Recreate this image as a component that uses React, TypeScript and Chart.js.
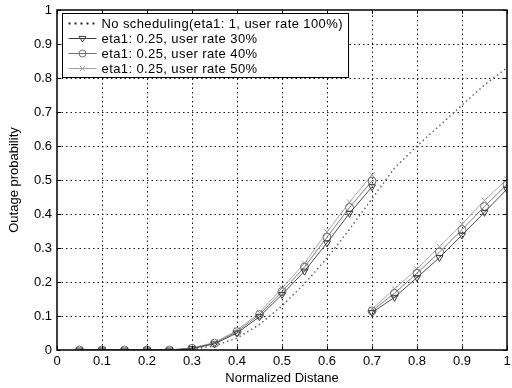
import React, { useEffect, useRef } from "react";
import { Chart, registerables } from "chart.js";

Chart.register(...registerables);

// ---------- data ----------
const distanceAll = [0.05, 0.1, 0.15, 0.2, 0.25, 0.3, 0.35, 0.4, 0.45, 0.5, 0.55, 0.6, 0.65, 0.7, 0.75, 0.8, 0.85, 0.9, 0.95, 1.0];
const noScheduling = [0, 0, 0, 0, 0, 0.002, 0.012, 0.035, 0.075, 0.13, 0.195, 0.27, 0.355, 0.445, 0.535, 0.6, 0.66, 0.72, 0.78, 0.83];

const distanceSeg1 = [0.05, 0.1, 0.15, 0.2, 0.25, 0.3, 0.35, 0.4, 0.45, 0.5, 0.55, 0.6, 0.65, 0.7];
const distanceSeg2 = [0.7, 0.75, 0.8, 0.85, 0.9, 0.95, 1.0];

const rate30Seg1 = [0, 0, 0, 0, 0, 0.004, 0.018, 0.05, 0.098, 0.163, 0.232, 0.315, 0.402, 0.48];
const rate40Seg1 = [0, 0, 0, 0, 0, 0.005, 0.02, 0.054, 0.104, 0.172, 0.244, 0.332, 0.419, 0.497];
const rate50Seg1 = [0, 0, 0, 0, 0, 0.006, 0.022, 0.058, 0.11, 0.182, 0.255, 0.347, 0.435, 0.515];

const rate30Seg2 = [0.11, 0.155, 0.213, 0.272, 0.338, 0.405, 0.473];
const rate40Seg2 = [0.115, 0.167, 0.226, 0.288, 0.354, 0.422, 0.487];
const rate50Seg2 = [0.12, 0.18, 0.238, 0.304, 0.37, 0.44, 0.502];

const xTickValues = [0, 0.1, 0.2, 0.3, 0.4, 0.5, 0.6, 0.7, 0.8, 0.9, 1];
const yTickValues = [0, 0.1, 0.2, 0.3, 0.4, 0.5, 0.6, 0.7, 0.8, 0.9, 1];

const seriesLabels = [
  "No scheduling(eta1: 1, user rate 100%)",
  "eta1: 0.25, user rate 30%",
  "eta1: 0.25, user rate 40%",
  "eta1: 0.25, user rate 50%",
];
const xTitle = "Normalized Distane";
const yTitle = "Outage probability";

// ---------- styles ----------
const FONT = "'Liberation Sans', Arial, Helvetica, sans-serif";
const colNoSched = "#666666";
const col30 = "#3a3a3a";
const col40 = "#707070";
const col50 = "#a0a0a0";

function pairs(xs: number[], ys: number[]) {
  return xs.map((x, i) => ({ x, y: ys[i] }));
}
function twoSegments(xs1: number[], ys1: number[], xs2: number[], ys2: number[]) {
  return [...pairs(xs1, ys1), { x: xs2[0], y: null as any }, ...pairs(xs2, ys2)];
}

function drawMarker(ctx: CanvasRenderingContext2D, kind: string, cx: number, cy: number, r: number, color: string) {
  ctx.save();
  ctx.strokeStyle = color;
  ctx.lineWidth = 1;
  ctx.setLineDash([]);
  ctx.beginPath();
  if (kind === "triDown") {
    ctx.moveTo(cx - r, cy - r * 0.6);
    ctx.lineTo(cx + r, cy - r * 0.6);
    ctx.lineTo(cx, cy + r);
    ctx.closePath();
  } else if (kind === "circle") {
    ctx.arc(cx, cy, r, 0, Math.PI * 2);
  } else if (kind === "x") {
    ctx.moveTo(cx - r * 0.75, cy - r * 0.75);
    ctx.lineTo(cx + r * 0.75, cy + r * 0.75);
    ctx.moveTo(cx + r * 0.75, cy - r * 0.75);
    ctx.lineTo(cx - r * 0.75, cy + r * 0.75);
  }
  ctx.stroke();
  ctx.restore();
}

const matlabPlugin = {
  id: "matlabFrame",
  beforeDatasetsDraw(chart: any) {
    const { ctx, chartArea: a, scales } = chart;
    const xs = scales.x;
    const ys = scales.y;
    ctx.save();
    ctx.strokeStyle = "#1a1a1a";
    ctx.lineWidth = 1;
    ctx.setLineDash([1.5, 3]);
    for (const v of xTickValues) {
      if (v <= 0 || v >= 1) continue;
      const px = Math.round(xs.getPixelForValue(v)) + 0.5;
      ctx.beginPath();
      ctx.moveTo(px, a.bottom);
      ctx.lineTo(px, a.top);
      ctx.stroke();
    }
    for (const v of yTickValues) {
      if (v <= 0 || v >= 1) continue;
      const py = Math.round(ys.getPixelForValue(v)) + 0.5;
      ctx.beginPath();
      ctx.moveTo(a.left, py);
      ctx.lineTo(a.right, py);
      ctx.stroke();
    }
    ctx.restore();
  },
  afterDatasetsDraw(chart: any) {
    const { ctx, chartArea: a, scales } = chart;
    const xs = scales.x;
    const ys = scales.y;
    ctx.save();
    ctx.setLineDash([]);
    ctx.strokeStyle = "#000";
    ctx.lineWidth = 1.5;
    ctx.strokeRect(a.left, a.top, a.right - a.left, a.bottom - a.top);
    ctx.lineWidth = 1;
    const tl = 4;
    for (const v of xTickValues) {
      const px = Math.round(xs.getPixelForValue(v)) + 0.5;
      ctx.beginPath();
      ctx.moveTo(px, a.bottom);
      ctx.lineTo(px, a.bottom - tl);
      ctx.moveTo(px, a.top);
      ctx.lineTo(px, a.top + tl);
      ctx.stroke();
    }
    for (const v of yTickValues) {
      const py = Math.round(ys.getPixelForValue(v)) + 0.5;
      ctx.beginPath();
      ctx.moveTo(a.left, py);
      ctx.lineTo(a.left + tl, py);
      ctx.moveTo(a.right, py);
      ctx.lineTo(a.right - tl, py);
      ctx.stroke();
    }
    ctx.restore();
  },
  afterDraw(chart: any) {
    const { ctx, chartArea: a } = chart;
    const bx = a.left + 5.5;
    const by = a.top + 3.5;
    const bw = 286;
    const bh = 64;
    ctx.save();
    ctx.fillStyle = "#fff";
    ctx.fillRect(bx, by, bw, bh);
    ctx.strokeStyle = "#000";
    ctx.lineWidth = 1;
    ctx.setLineDash([]);
    ctx.strokeRect(bx, by, bw, bh);

    const rows = [by + 10, by + 25, by + 40, by + 55];
    const sx1 = bx + 6;
    const sx2 = bx + 34;
    const kinds = ["dots", "triDown", "circle", "x"];
    const colors = ["#222", col30, col40, col50];
    rows.forEach((ry, i) => {
      if (kinds[i] === "dots") {
        ctx.save();
        ctx.strokeStyle = colors[i];
        ctx.lineWidth = 2;
        ctx.setLineDash([2, 4]);
        ctx.beginPath();
        ctx.moveTo(sx1, ry);
        ctx.lineTo(sx2, ry);
        ctx.stroke();
        ctx.restore();
      } else {
        ctx.save();
        ctx.strokeStyle = colors[i];
        ctx.lineWidth = 1;
        ctx.beginPath();
        ctx.moveTo(sx1, ry);
        ctx.lineTo(sx2, ry);
        ctx.stroke();
        ctx.restore();
        drawMarker(ctx, kinds[i], (sx1 + sx2) / 2, ry, 3.5, colors[i]);
      }
    });

    ctx.save();
    ctx.beginPath();
    ctx.rect(bx + 1, by + 1, bw - 2, bh - 2);
    ctx.clip();
    ctx.fillStyle = "#000";
    ctx.font = `13px ${FONT}`;
    (ctx as any).letterSpacing = "0.4px";
    ctx.textAlign = "left";
    ctx.textBaseline = "middle";
    rows.forEach((ry, i) => {
      ctx.fillText(seriesLabels[i], bx + 39, ry + 0.5);
    });
    ctx.restore();
    ctx.restore();
  },
};

export default function App() {
  const canvasRef = useRef<HTMLCanvasElement | null>(null);

  useEffect(() => {
    const canvas = canvasRef.current;
    if (!canvas) return;

    const chart = new Chart(canvas, {
      type: "line",
      data: {
        datasets: [
          {
            label: seriesLabels[0],
            data: pairs(distanceAll, noScheduling),
            borderColor: colNoSched,
            borderWidth: 1.5,
            borderDash: [1.5, 3],
            pointRadius: 0,
            fill: false,
            tension: 0,
          },
          {
            label: seriesLabels[1],
            data: twoSegments(distanceSeg1, rate30Seg1, distanceSeg2, rate30Seg2),
            borderColor: col30,
            borderWidth: 0.9,
            pointStyle: "triangle",
            pointRotation: 180,
            pointRadius: 4,
            pointBorderColor: col30,
            pointBackgroundColor: "rgba(0,0,0,0)",
            pointBorderWidth: 1,
            fill: false,
            spanGaps: false,
          },
          {
            label: seriesLabels[2],
            data: twoSegments(distanceSeg1, rate40Seg1, distanceSeg2, rate40Seg2),
            borderColor: col40,
            borderWidth: 0.9,
            pointStyle: "circle",
            pointRadius: 4,
            pointBorderColor: col40,
            pointBackgroundColor: "rgba(0,0,0,0)",
            pointBorderWidth: 1,
            fill: false,
            spanGaps: false,
          },
          {
            label: seriesLabels[3],
            data: twoSegments(distanceSeg1, rate50Seg1, distanceSeg2, rate50Seg2),
            borderColor: col50,
            borderWidth: 0.9,
            pointStyle: "crossRot",
            pointRadius: 4,
            pointBorderColor: col50,
            pointBackgroundColor: "rgba(0,0,0,0)",
            pointBorderWidth: 1,
            fill: false,
            spanGaps: false,
          },
        ],
      },
      options: {
        responsive: false,
        animation: false,
        devicePixelRatio: 1,
        layout: { padding: { top: 10, right: 2, left: 0, bottom: 0 } },
        plugins: {
          legend: { display: false },
          tooltip: { enabled: false },
        },
        scales: {
          x: {
            type: "linear",
            min: 0,
            max: 1,
            afterBuildTicks: (scale: any) => {
              scale.ticks = xTickValues.map((v) => ({ value: v }));
            },
            afterFit: (scale: any) => {
              scale.height = 38;
              scale.paddingLeft = 0;
              scale.paddingRight = 0;
            },
            grid: { display: false, drawTicks: false },
            border: { display: false },
            ticks: {
              color: "#000",
              font: { family: FONT, size: 13 },
              padding: 4,
              maxRotation: 0,
              autoSkip: false,
              callback: (v: any) => String(Number(Number(v).toFixed(1))),
            },
            title: {
              display: true,
              text: xTitle,
              color: "#000",
              font: { family: FONT, size: 13 },
              padding: { top: 0, bottom: 2 },
            },
          },
          y: {
            type: "linear",
            min: 0,
            max: 1,
            afterBuildTicks: (scale: any) => {
              scale.ticks = yTickValues.map((v) => ({ value: v }));
            },
            afterFit: (scale: any) => {
              scale.width = 57;
              scale.paddingTop = 0;
              scale.paddingBottom = 0;
            },
            grid: { display: false, drawTicks: false },
            border: { display: false },
            ticks: {
              color: "#000",
              font: { family: FONT, size: 13 },
              padding: 5,
              autoSkip: false,
              callback: (v: any) => String(Number(Number(v).toFixed(1))),
            },
            title: {
              display: true,
              text: yTitle,
              color: "#000",
              font: { family: FONT, size: 13 },
              padding: { top: 7, bottom: 0 },
            },
          },
        },
      },
      plugins: [matlabPlugin],
    });

    return () => {
      chart.destroy();
    };
  }, []);

  return (
    <div style={{ position: "absolute", left: 0, top: 0, width: 512, height: 388, background: "#fff" }}>
      <canvas ref={canvasRef} width={512} height={388} style={{ display: "block" }} />
    </div>
  );
}
